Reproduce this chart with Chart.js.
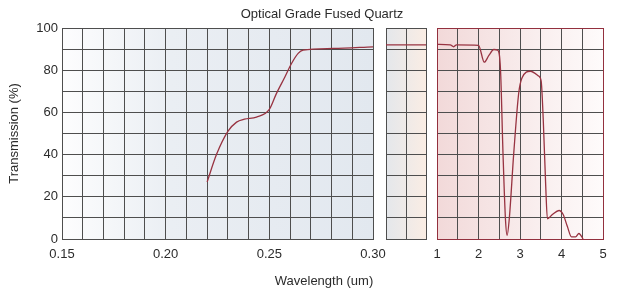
<!DOCTYPE html>
<html>
<head>
<meta charset="utf-8">
<script src="https://cdn.jsdelivr.net/npm/chart.js@4.4.1/dist/chart.umd.min.js"></script>
<style>
  html, body { margin: 0; padding: 0; background: #fff; }
  #wrap { position: relative; width: 644px; height: 303px; font-family: "Liberation Sans", Arial, sans-serif; color: #2b2b2b; }
  #wrap canvas { position: absolute; left: 0; top: 0; }
  .txt { position: absolute; font-size: 13px; white-space: nowrap; transform: translate(-50%, -50%); }
</style>
</head>
<body>
<div id="wrap">
  <canvas id="uv" width="644" height="303"></canvas>
  <canvas id="vis" width="644" height="303"></canvas>
  <canvas id="ir" width="644" height="303"></canvas>
  <div class="txt" style="left:322px;top:13px">Optical Grade Fused Quartz</div>
  <div class="txt" style="left:324px;top:280px">Wavelength (um)</div>
</div>
<script>
//UV part of the curve (um, %)
const uvWavelength = [0.22, 0.2245, 0.23, 0.2342, 0.238, 0.2438, 0.25, 0.2534, 0.2575, 0.2607, 0.2639, 0.2663, 0.2808, 0.30];
const uvTransmission = [27, 40, 51, 55.4, 56.8, 57.8, 61.4, 68.9, 76.8, 83.2, 88, 89.5, 90.3, 91.1];
//visible part
const visWavelength = [0.30, 1.0];
const visTransmission = [92, 92];
//IR part
const irWavelength = [1.0, 1.32, 1.4, 1.47, 2.0, 2.14, 2.25, 2.37, 2.46, 2.53, 2.59, 2.65, 2.69, 2.74, 2.85, 2.97, 3.05, 3.25, 3.45, 3.51, 3.56, 3.62, 3.66, 3.78, 3.94, 4.04, 4.14, 4.24, 4.34, 4.42, 4.52];
const irTransmission = [92.2, 92, 91.1, 92, 91.8, 83.8, 87, 89.8, 89.5, 80.3, 40.8, 9.2, 1.7, 9.2, 40.8, 69.3, 76.4, 79.5, 77.2, 74.8, 56.6, 25, 9.6, 11.6, 13.5, 11.6, 6, 1, 1, 2.6, 0];
//tick values
const uvTicks = [0.15, 0.16, 0.17, 0.18, 0.19, 0.20, 0.21, 0.22, 0.23, 0.24, 0.25, 0.26, 0.27, 0.28, 0.29, 0.30];
const uvLabelled = [0.15, 0.20, 0.25, 0.30];
const visTicks = [0.30, 0.65, 1.0];
const irTicks = [1, 1.5, 2, 2.5, 3, 3.5, 4, 4.5, 5];
const irLabelled = [1, 2, 3, 4, 5];
const yLabelled = [0, 20, 40, 60, 80, 100];

const LINE = "#983341";
const GRID = "#4e4e4e";
const FONT = { family: "'Liberation Sans', Arial, sans-serif", size: 13 };

//gradient fill behind each panel + optional frame
const panelBg = {
  id: "panelBg",
  beforeDraw(chart, args, opts) {
    const { ctx, chartArea: a } = chart;
    const g = ctx.createLinearGradient(a.left, 0, a.right, 0);
    opts.stops.forEach(s => g.addColorStop(s[0], s[1]));
    ctx.save();
    ctx.fillStyle = g;
    ctx.fillRect(a.left, a.top, a.right - a.left, a.bottom - a.top);
    ctx.restore();
  },
  afterDraw(chart, args, opts) {
    if (!opts.frame) return;
    const { ctx, chartArea: a } = chart;
    ctx.save();
    ctx.strokeStyle = opts.frame;
    ctx.lineWidth = 1;
    ctx.strokeRect(Math.round(a.left) + 0.5, Math.round(a.top) + 0.5, Math.round(a.right - a.left), Math.round(a.bottom - a.top));
    ctx.restore();
  }
};

const toPoints = (xs, ys) => xs.map((x, i) => ({ x: x, y: ys[i] }));

function makePanel(id, cfg) {
  return new Chart(document.getElementById(id), {
    type: "line",
    plugins: [panelBg],
    data: {
      datasets: [{
        data: toPoints(cfg.xs, cfg.ys),
        borderColor: LINE,
        borderWidth: 1.3,
        pointRadius: 0,
        cubicInterpolationMode: "monotone",
        fill: false
      }]
    },
    options: {
      responsive: false,
      animation: false,
      events: [],
      layout: { padding: { left: cfg.left, right: 644 - cfg.right, top: 28, bottom: 0 } },
      plugins: {
        legend: { display: false },
        tooltip: { enabled: false },
        panelBg: { stops: cfg.stops, frame: cfg.frame }
      },
      scales: {
        x: {
          type: "linear",
          min: cfg.min,
          max: cfg.max,
          afterBuildTicks: s => { s.ticks = cfg.ticks.map(v => ({ value: v })); },
          afterFit: s => { s.height = 64; },
          grid: { color: GRID, lineWidth: 1, drawTicks: false },
          border: { color: GRID },
          ticks: {
            display: cfg.labels.length > 0,
            autoSkip: false,
            maxRotation: 0,
            padding: 8,
            color: "#2b2b2b",
            font: FONT,
            callback: v => {
              const hit = cfg.labels.find(l => Math.abs(l - v) < 1e-6);
              return hit === undefined ? "" : cfg.fmt(hit);
            }
          }
        },
        y: {
          min: 0,
          max: 100,
          afterFit: s => { s.width = cfg.yAxis ? 62 : 0; },
          grid: { color: GRID, lineWidth: 1, drawTicks: false },
          border: { color: GRID },
          title: {
            display: cfg.yAxis,
            text: "Transmission (%)",
            color: "#2b2b2b",
            font: FONT,
            padding: { top: 7, bottom: 0 }
          },
          ticks: {
            display: cfg.yAxis,
            stepSize: 10,
            padding: 4,
            color: "#2b2b2b",
            font: FONT,
            callback: v => (yLabelled.includes(v) ? v : "")
          }
        }
      }
    }
  });
}

makePanel("uv", {
  xs: uvWavelength, ys: uvTransmission,
  left: 0, right: 373, min: 0.15, max: 0.30,
  ticks: uvTicks, labels: uvLabelled, fmt: v => v.toFixed(2),
  yAxis: true,
  stops: [[0, "#fdfdfe"], [0.35, "#eaeef3"], [1, "#e2e8ef"]]
});
makePanel("vis", {
  xs: visWavelength, ys: visTransmission,
  left: 386, right: 426, min: 0.30, max: 1.0,
  ticks: visTicks, labels: [], fmt: v => v,
  yAxis: false,
  stops: [[0, "#e4e7eb"], [1, "#faede4"]]
});
makePanel("ir", {
  xs: irWavelength, ys: irTransmission,
  left: 437, right: 603, min: 1, max: 5,
  ticks: irTicks, labels: irLabelled, fmt: v => String(v),
  yAxis: false,
  stops: [[0, "#f2d9d9"], [0.6, "#f9eeee"], [1, "#fefbfb"]],
  frame: "#93303e"
});
</script>
</body>
</html>
